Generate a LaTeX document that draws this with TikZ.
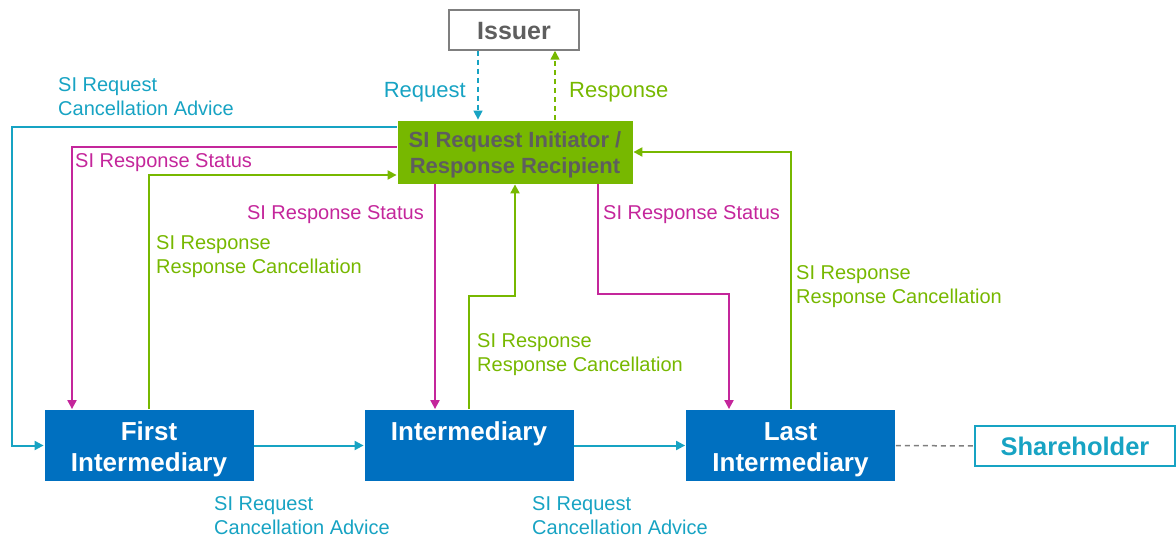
\documentclass[tikz,border=0pt]{standalone}
\usepackage{fontspec}
\setmainfont{Liberation Sans}
\usetikzlibrary{arrows.meta,calc}
\definecolor{cteal}{HTML}{17A3C3}
\definecolor{cgreen}{HTML}{77B800}
\definecolor{cmag}{HTML}{C4269B}
\definecolor{cblue}{HTML}{0070C0}
\definecolor{cgray}{HTML}{7F7F7F}
\definecolor{ctext}{HTML}{5E5E5E}
\newcommand{\dnf}[2]{\raisebox{-#1}[\height][\depth]{#2}}
\tikzset{
  x=1pt, y=-1pt,
  bluebox/.style={draw=white, line width=0.8pt, fill=cblue, text=white, minimum width=210pt, minimum height=72pt, inner sep=0pt, align=center, font=\fontsize{26}{31}\selectfont\bfseries},
  lbl/.style={inner sep=0pt, align=left, font=\fontsize{20}{24}\selectfont},
  biglbl/.style={inner sep=0pt, font=\fontsize{22}{26}\selectfont},
  conn/.style={line width=2pt, -{Triangle[length=9pt,width=9pt]}},
  dconn/.style={line width=1.5pt, dash pattern=on 5pt off 4pt, -{Triangle[length=9pt,width=9pt]}},
}
\begin{document}
\begin{tikzpicture}
\useasboundingbox (0,0) rectangle (1176,537);
% boxes
\node[draw=cgray, line width=1.5pt, minimum width=130pt, minimum height=40pt, inner sep=0pt, text=ctext, font=\fontsize{25}{30}\selectfont\bfseries] (issuer) at (514,30) {\dnf{1pt}{Issuer}};
\node[draw=white, line width=0.8pt, fill=cgreen, minimum width=236pt, minimum height=64pt, inner sep=0pt, align=center, text=ctext, font=\fontsize{22}{26}\selectfont\bfseries] (si) at (515,152) {\dnf{3pt}{SI Request Initiator /}\\\dnf{3pt}{Response Recipient}};
\node[bluebox] (first) at (149,445.5) {\dnf{4pt}{First}\\\dnf{4pt}{Intermediary}};
\node[bluebox] (inter) at (469,445.5) {\dnf{1pt}{Intermediary}\\\mbox{}};
\node[bluebox] (last) at (790.5,445.5) {\dnf{4pt}{Last}\\\dnf{4pt}{Intermediary}};
\node[draw=cteal, line width=2pt, fill=white, minimum width=200pt, minimum height=40pt, inner sep=0pt, text=cteal, font=\fontsize{25.5}{30}\selectfont\bfseries] (share) at (1075,446) {Shareholder};

% issuer dashed links
\draw[dconn, cteal] ([xshift=-36pt]issuer.south) -- ([xshift=-37pt]si.north);
\draw[dconn, cgreen] ([xshift=40pt]si.north) -- ([xshift=41pt]issuer.south);

% teal request flow
\draw[conn, cteal] ([yshift=25pt]si.west) -| ([xshift=-32pt]first.west) -- (first.west);
\draw[conn, cteal] (first.east) -- (inter.west);
\draw[conn, cteal] (inter.east) -- (last.west);

% magenta status
\draw[conn, cmag] ([yshift=5pt]si.west) -| ([xshift=-77pt]first.north);
\draw[conn, cmag] ([xshift=-80pt]si.south) -- ([xshift=-34pt]inter.north);
\draw[conn, cmag] ([xshift=83pt]si.south) -- ++(0,110) -| ([xshift=-61.5pt]last.north);

% green responses
\draw[conn, cgreen] (first.north) |- ([yshift=-23pt]si.west);
\draw[conn, cgreen] (inter.north) -- ++(0,-113) -| (si.south);
\draw[conn, cgreen] (last.north) |- (si.east);

% shareholder dashed
\draw[line width=1.5pt, cgray, dash pattern=on 5pt off 4pt] (last.east) -- (share.west);

% labels
\node[lbl, text=cteal, anchor=west] (l1) at (58,97) {SI Request\\Cancellation Advice};
\node[biglbl, text=cteal, anchor=east] (l2) at (466,92) {Request};
\node[biglbl, text=cgreen, anchor=west] (l3) at (569,92) {Response};
\node[lbl, text=cmag, anchor=west] (l4) at (75,163) {SI Response Status};
\node[lbl, text=cmag, anchor=east] (l5) at (424,215) {SI Response Status};
\node[lbl, text=cmag, anchor=west] (l6) at (603,215) {SI Response Status};
\node[lbl, text=cgreen, anchor=west] (l7) at (156,257) {SI Response\\Response Cancellation};
\node[lbl, text=cgreen, anchor=west] (l8) at (477,355) {SI Response\\Response Cancellation};
\node[lbl, text=cgreen, anchor=west] (l9) at (796,287) {SI Response\\Response Cancellation};
\node[lbl, text=cteal, anchor=west] (l10) at (214,515.5) {SI Request\\Cancellation Advice};
\node[lbl, text=cteal, anchor=west] (l11) at (532,515.5) {SI Request\\Cancellation Advice};
\end{tikzpicture}
\end{document}
